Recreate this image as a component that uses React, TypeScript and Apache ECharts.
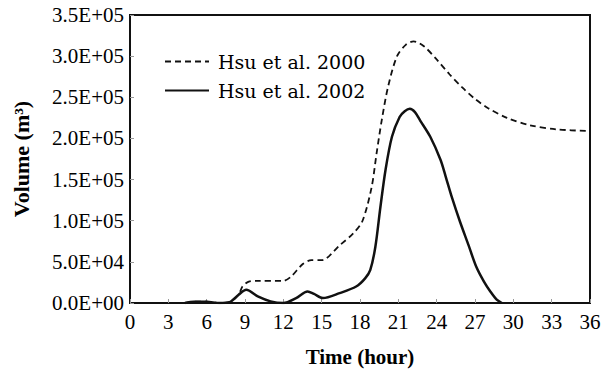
import React, { useEffect, useRef } from "react";
import * as echarts from "echarts";

const seriesNames = ["Hsu et al. 2000", "Hsu et al. 2002"];

const hours2000 = [4.3, 5, 6, 7, 7.8, 8.5, 8.8, 9.3, 10, 12, 12.6, 13.5, 14.2, 15, 16.4, 17.5, 18.2, 18.9, 19.3, 19.7, 20.2, 20.9, 21.6, 22.2, 23, 24, 25, 26, 27, 28, 29.5, 31.3, 33.4, 36];
const volume2000 = [0, 1500, 1500, 0, 1000, 10000, 20000, 26000, 27000, 27000, 32000, 47000, 52000, 52000, 70000, 85000, 100000, 140000, 182000, 222000, 263000, 300000, 314000, 318000, 312000, 296000, 278000, 262000, 248000, 237000, 225000, 216000, 211000, 209000];

const hours2002 = [4.3, 5, 6, 7, 7.8, 8.5, 9.1, 10, 11, 12, 13, 13.9, 14.4, 15.1, 16.4, 17.7, 18.4, 18.8, 19.2, 19.6, 20, 20.5, 21.1, 21.5, 21.9, 22.3, 22.7, 23.5, 24.3, 24.7, 25.2, 25.8, 26.5, 27.1, 27.7, 28.2, 28.7, 29.1];
const volume2002 = [0, 1500, 1500, 0, 1000, 10000, 16000, 8000, 2000, 0, 6000, 14000, 11000, 6000, 12000, 20000, 30000, 40000, 68000, 117000, 162000, 202000, 226000, 233000, 236000, 232000, 222000, 202000, 174000, 154000, 128000, 100000, 70000, 44000, 26000, 14000, 4000, 0];

const xTitle = "Time (hour)";
const yTitle = "Volume (m³)";

function sci(v: number): string {
  const [m, e] = v.toExponential(1).split("e");
  const sign = e[0];
  const digits = e.slice(1).padStart(2, "0");
  return m + "E" + sign + digits;
}

export default function App() {
  const ref = useRef<HTMLDivElement>(null);
  useEffect(() => {
    if (!ref.current) return;
    const chart = echarts.init(ref.current, undefined, { renderer: "svg" });
    const serif = "Liberation Serif";
    chart.setOption({
      animation: false,
      backgroundColor: "#fff",
      grid: {
        left: 130,
        top: 15,
        right: 15,
        bottom: 66,
        show: true,
        borderColor: "#111",
        borderWidth: 2,
        containLabel: false,
        outerBoundsMode: "none",
      },
      legend: {
        orient: "vertical",
        left: 159,
        top: 47,
        itemWidth: 44,
        itemHeight: 14,
        itemGap: 10,
        data: seriesNames,
        itemStyle: { opacity: 0 },
        textStyle: { fontFamily: "DejaVu Serif", fontSize: 19, color: "#000", padding: [0, 0, 0, 4] },
      },
      xAxis: {
        type: "value",
        min: 0,
        max: 36,
        interval: 3,
        name: xTitle,
        nameLocation: "middle",
        nameGap: 43,
        nameTextStyle: { fontFamily: serif, fontWeight: "bold", fontSize: 21, color: "#000" },
        axisLine: { lineStyle: { color: "#111", width: 2 } },
        axisTick: { inside: true, length: 4, lineStyle: { color: "#999" } },
        axisLabel: { fontFamily: serif, fontSize: 21, color: "#000", margin: 8 },
        splitLine: { show: false },
      },
      yAxis: {
        type: "value",
        min: 0,
        max: 350000,
        interval: 50000,
        name: yTitle,
        nameLocation: "middle",
        nameRotate: 90,
        nameGap: 98,
        nameTextStyle: { fontFamily: serif, fontWeight: "bold", fontSize: 22, color: "#000" },
        axisLine: { lineStyle: { color: "#111", width: 2 } },
        axisTick: { inside: true, length: 4, lineStyle: { color: "#999" } },
        axisLabel: { fontFamily: serif, fontSize: 21, color: "#000", margin: 6, formatter: (v: number) => sci(v) },
        splitLine: { show: false },
      },
      series: [
        {
          name: seriesNames[0],
          type: "line",
          symbol: "none",
          smooth: 0.3,
          data: hours2000.map((h, i) => [h, volume2000[i]]),
          lineStyle: { color: "#111", width: 1.8, type: [6, 4] },
          itemStyle: { color: "#111" },
        },
        {
          name: seriesNames[1],
          type: "line",
          symbol: "none",
          smooth: 0.3,
          data: hours2002.map((h, i) => [h, volume2002[i]]),
          lineStyle: { color: "#111", width: 2.5, type: "solid" },
          itemStyle: { color: "#111" },
        },
      ],
    });
    return () => chart.dispose();
  }, []);
  return <div ref={ref} style={{ position: "fixed", left: 0, top: 0, width: 605, height: 369 }} />;
}
